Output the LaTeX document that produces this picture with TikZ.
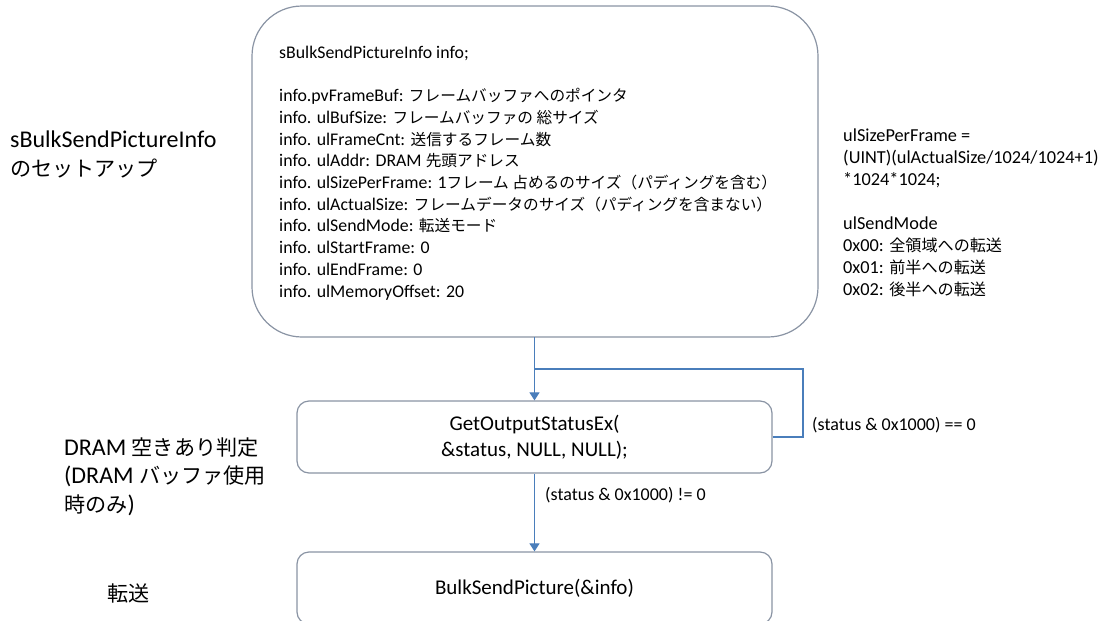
\documentclass[tikz,border=0pt]{standalone}
\usepackage{fontspec}
\setmainfont{Carlito}
\newfontfamily\jp{Noto Sans CJK JP}[Scale=0.88]
\usetikzlibrary{arrows.meta}
\definecolor{boxline}{RGB}{138,148,164}
\definecolor{flowblue}{RGB}{74,126,187}
\tikzset{
  x=1pt, y=-1pt,
  procbox/.style={draw=boxline, line width=1.2pt, fill=white},
  flow/.style={draw=flowblue, line width=1.1pt},
  arr/.style={flow, -{Triangle[length=8pt,width=10pt]}},
  steplabel/.style={inner sep=0pt, anchor=base west, align=left,
    font=\fontsize{24}{28.5}\selectfont},
  note/.style={inner sep=0pt, anchor=base west, align=left},
}
\begin{document}
\begin{tikzpicture}
\useasboundingbox (0,0) rectangle (1111,621);
\clip (0,0) rectangle (1111,621);

% structure setup box (anchored at the baseline of its last line)
\draw[procbox, rounded corners=50pt] (252,6) rectangle (818,337);
\node[note, font=\fontsize{17.8}{21.7}\selectfont] (fields) at (279,297) {%
sBulkSendPictureInfo info;\\[21.7pt]
info.pvFrameBuf: {\jp フレームバッファへのポインタ}\\
info. ulBufSize: {\jp フレームバッファの 総サイズ}\\
info. ulFrameCnt: {\jp 送信するフレーム数}\\
info. ulAddr: DRAM {\jp 先頭アドレス}\\
info. ulSizePerFrame: 1{\jp フレーム 占めるのサイズ（パディングを含む）}\\
info. ulActualSize: {\jp フレームデータのサイズ（パディングを含まない）}\\
info. ulSendMode: {\jp 転送モード}\\
info. ulStartFrame: 0\\
info. ulEndFrame: 0\\
info. ulMemoryOffset: 20};
\coordinate (infobot) at (535,337);

% status check and transfer boxes
\node[procbox, rounded corners=12pt, minimum width=475pt, minimum height=72pt,
  align=center, font=\fontsize{21}{26}\selectfont] (check) at (534.5,437)
  {GetOutputStatusEx(\\\&status, NULL, NULL);};
\node[procbox, rounded corners=12pt, minimum width=475pt, minimum height=72pt,
  font=\fontsize{21}{26}\selectfont] (send) at (534.5,588)
  {BulkSendPicture(\&info)};

% connectors
\coordinate (join) at (534.5,369);
\coordinate (loopr) at (803,369);
\draw[arr] (infobot -| check.north) -- (check.north);
\draw[flow] (check.east) -| (loopr) -- (join);
\draw[arr] (check.south) -- (send.north);

\node[note, font=\fontsize{18}{22}\selectfont] (busy) at (812,430)
  {(status \& 0x1000) == 0};
\node[note, font=\fontsize{18}{22}\selectfont] (free) at (545,500)
  {(status \& 0x1000) != 0};

% side notes
\node[note, font=\fontsize{18.3}{22}\selectfont] (notes) at (843,295) {%
ulSizePerFrame =\\
(UINT)(ulActualSize/1024/1024+1)\\
*1024*1024;\\[22pt]
ulSendMode\\
0x00: {\jp 全領域への転送}\\
0x01: {\jp 前半への転送}\\
0x02: {\jp 後半への転送}};

% step labels
\node[steplabel] (lblsetup) at (10,176)
  {sBulkSendPictureInfo\\{\jp のセットアップ}};
\node[steplabel] (lblcheck) at (64,512)
  {DRAM {\jp 空きあり判定}\\(DRAM {\jp バッファ使用}\\{\jp 時のみ})};
\node[steplabel] (lblsend) at (107,601) {{\jp 転送}};
\end{tikzpicture}
\end{document}
